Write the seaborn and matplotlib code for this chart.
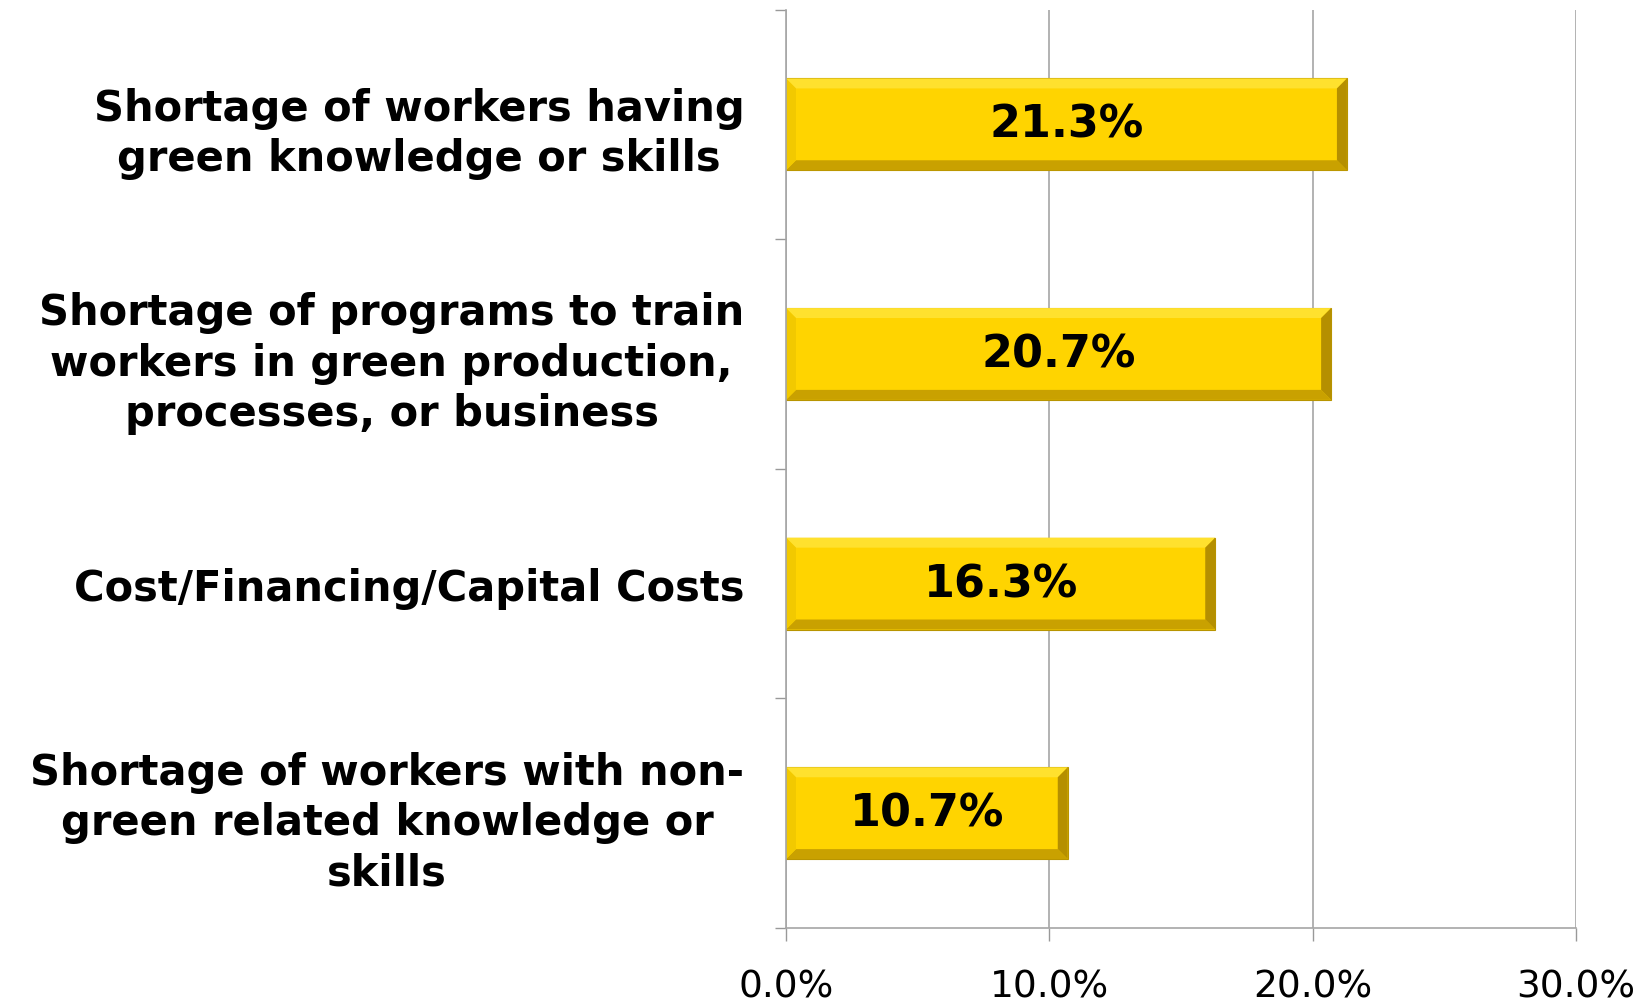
import numpy as np
import pandas as pd
import seaborn as sns
import matplotlib
matplotlib.use('Agg')
import matplotlib.pyplot as plt
import matplotlib.transforms as mtransforms
from matplotlib.patches import Polygon
from matplotlib.ticker import FixedLocator

categories = [
    'Shortage of workers having\ngreen knowledge or skills',
    'Shortage of programs to train\nworkers in green production,\nprocesses, or business',
    'Cost/Financing/Capital Costs',
    'Shortage of workers with non-\ngreen related knowledge or\nskills',
]
values = [21.3, 20.7, 16.3, 10.7]
xticks = [0, 10, 20, 30]
xtick_labels = ['0.0%', '10.0%', '20.0%', '30.0%']

df = pd.DataFrame({'barrier': categories, 'pct': values})

sns.set_style('white')
plt.rcParams['font.family'] = ['DejaVu Sans']
plt.rcParams['text.color'] = 'black'

fig = plt.figure(figsize=(16.46, 10.04), dpi=100)
ax = fig.add_axes([0.4775, 0.0747, 0.48, 0.9148])

sns.barplot(data=df, x='pct', y='barrier', orient='h', width=0.4,
            color='#FFD400', saturation=1, edgecolor='#B89400', linewidth=0.8, ax=ax)

ax.set_xlim(0, 30)
ax.set_ylim(3.5, -0.5)
ax.set_xticks(xticks)
ax.set_xticklabels(xtick_labels, fontsize=27, color='black')
ax.set_xlabel('')
ax.set_ylabel('')
ax.set_yticks(range(len(categories)))
ax.set_yticklabels(categories, fontsize=30, fontweight='bold', color='black',
                   multialignment='center', linespacing=1.25)
# nudge the category labels up a little
shift = mtransforms.ScaledTranslation(0, 5 / 100, fig.dpi_scale_trans)
for lbl in ax.get_yticklabels():
    lbl.set_transform(lbl.get_transform() + shift)
ax.tick_params(axis='y', which='major', length=0, pad=30)
ax.yaxis.set_minor_locator(FixedLocator(np.arange(-0.5, len(categories), 1.0)))
ax.tick_params(axis='y', which='minor', left=True, length=8, color='#999999', width=1)
ax.tick_params(axis='x', bottom=True, length=9, color='#999999', width=1, pad=20)

ax.grid(axis='x', color='#a6a6a6', linewidth=1.2)
ax.set_axisbelow(True)
for s in ['top', 'right']:
    ax.spines[s].set_visible(False)
for s in ['left', 'bottom']:
    ax.spines[s].set_color('#a6a6a6')
    ax.spines[s].set_linewidth(1.2)

# bevel look on each bar (10 px edge), sizes converted through the axes transform
inv = ax.transData.inverted()
p0 = inv.transform((0, 0))
p1 = inv.transform((10, 10))
dx = abs(p1[0] - p0[0])
dy = abs(p1[1] - p0[1])
for p in list(ax.patches):
    x0, y0, w, h = p.get_x(), p.get_y(), p.get_width(), p.get_height()
    y1 = y0 + h
    faces = [
        ([(x0, y0), (x0 + w, y0), (x0 + w - dx, y0 + dy), (x0 + dx, y0 + dy)], '#FFE12E'),
        ([(x0, y1), (x0 + w, y1), (x0 + w - dx, y1 - dy), (x0 + dx, y1 - dy)], '#C9A100'),
        ([(x0, y0), (x0 + dx, y0 + dy), (x0 + dx, y1 - dy), (x0, y1)], '#F2C900'),
        ([(x0 + w, y0), (x0 + w - dx, y0 + dy), (x0 + w - dx, y1 - dy), (x0 + w, y1)], '#B58F00'),
    ]
    for pts, c in faces:
        ax.add_patch(Polygon(pts, closed=True, facecolor=c, edgecolor='none', zorder=p.get_zorder() + 0.1))

for i, v in enumerate(values):
    ax.text(v / 2, i, f'{v:.1f}%', ha='center', va='center', fontsize=32,
            fontweight='bold', color='black', zorder=5)

fig.savefig('out.png', dpi=100)
